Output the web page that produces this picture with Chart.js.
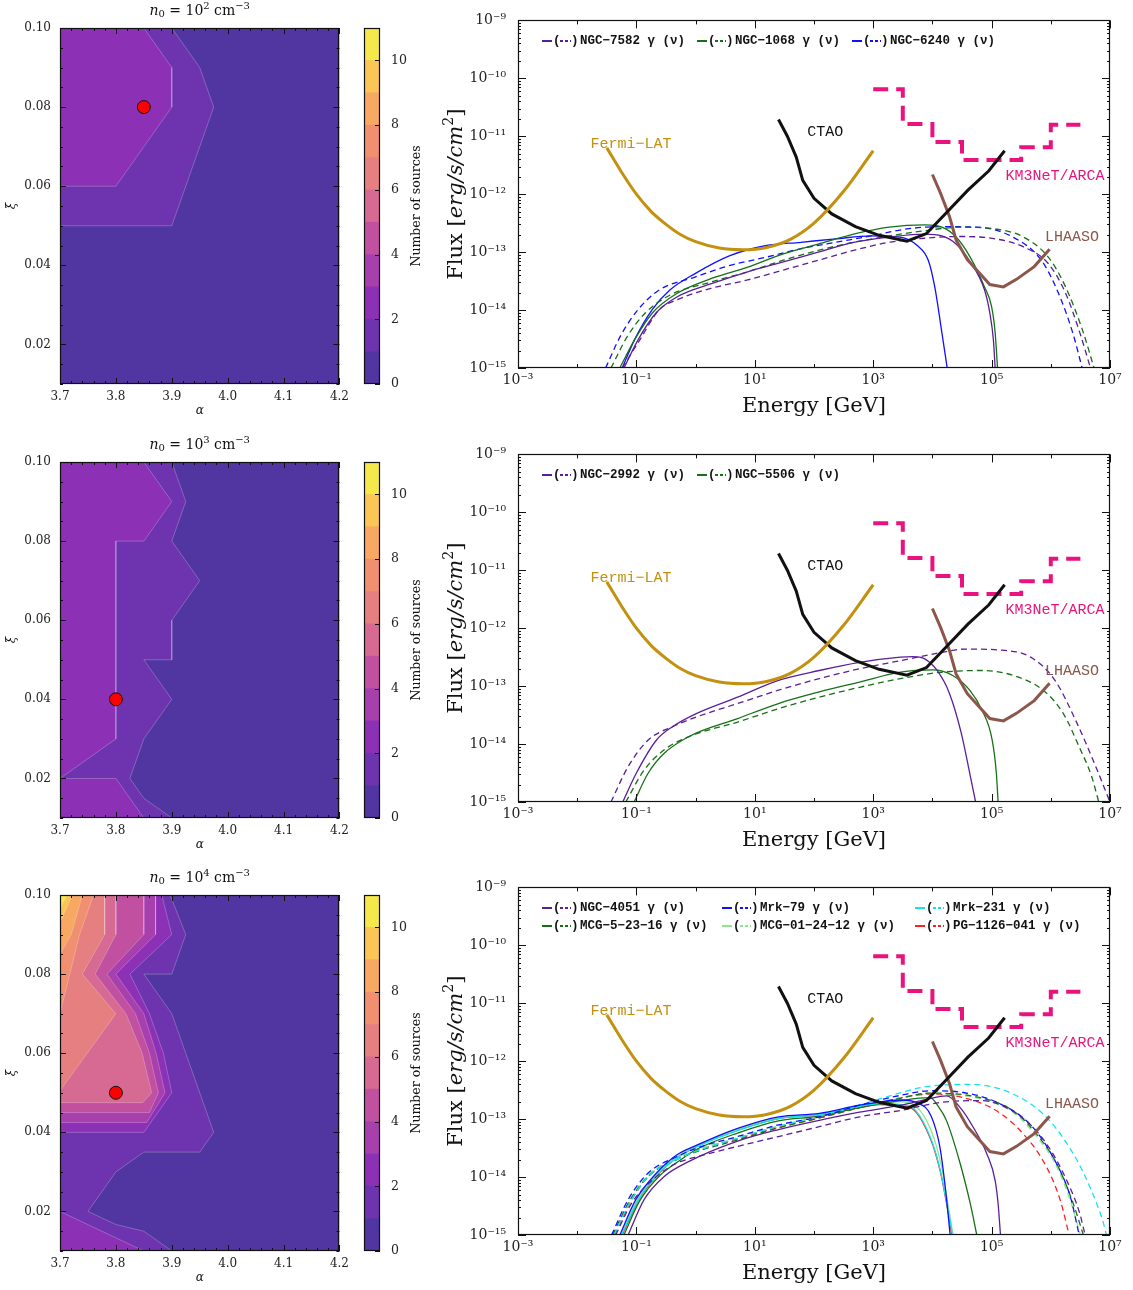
<!DOCTYPE html>
<html>
<head>
<meta charset="utf-8">
<title>Source counts and SEDs</title>
<script src="https://cdn.jsdelivr.net/npm/chart.js@4.4.1/dist/chart.umd.min.js"></script>
<style>
  body { margin: 0; background: #fff; }
  #page { position: relative; width: 1133px; height: 1290px; overflow: hidden; background: #fff; }
  canvas { position: absolute; }
</style>
</head>
<body>
<div id="page"></div>
<script>
// ---------- contour maps: number of sources over (alpha, xi) ----------
var levelColors = ['#5135a0', '#6e33af', '#8c30b5', '#a73fad', '#c150a0', '#d66a92',
                   '#e57f80', '#f09070', '#f7a862', '#fbc655', '#f5e84a'];
var colorbarLevels = [0, 1, 2, 3, 4, 5, 6, 7, 8, 9, 10];
var colorbarTicks = [0, 2, 4, 6, 8, 10];
var alphaTicks = [3.7, 3.8, 3.9, 4.0, 4.1, 4.2];
var xiTicks = [0.02, 0.04, 0.06, 0.08, 0.10];
var densityExponents = ['2', '3', '4'];

var fullBox = [[3.7, 0.10], [4.2, 0.10], [4.2, 0.01], [3.7, 0.01]];

// n0 = 1e2
var map1Level1 = [[3.7, 0.10], [3.9, 0.10], [3.95, 0.09], [3.975, 0.08], [3.9, 0.05], [3.7, 0.05]];
var map1Level2 = [[3.7, 0.10], [3.85, 0.10], [3.9, 0.09], [3.9, 0.08], [3.8, 0.06], [3.7, 0.06]];
var map1Best = [3.85, 0.08];

// n0 = 1e3
var map2Level1 = [[3.7, 0.10], [3.9, 0.10], [3.925, 0.09], [3.9, 0.08], [3.95, 0.07], [3.9, 0.06],
                  [3.9, 0.05], [3.85, 0.05], [3.9, 0.04], [3.85, 0.03], [3.825, 0.02], [3.85, 0.015],
                  [3.9, 0.01], [3.7, 0.01]];
var map2Level2 = [[3.7, 0.10], [3.85, 0.10], [3.9, 0.09], [3.85, 0.08], [3.8, 0.08], [3.8, 0.03], [3.7, 0.02]];
var map2Level2b = [[3.7, 0.02], [3.8, 0.02], [3.85, 0.01], [3.7, 0.01]];
var map2Best = [3.8, 0.04];

// n0 = 1e4
var map3Level1 = [[3.7, 0.10], [3.897, 0.10], [3.925, 0.09], [3.9, 0.08], [3.85, 0.08], [3.9, 0.07],
                  [3.975, 0.04], [3.95, 0.035], [3.85, 0.035], [3.8, 0.03], [3.75, 0.02], [3.8, 0.0167],
                  [3.85, 0.015], [3.9, 0.01], [3.7, 0.01]];
var map3Level2 = [[3.7, 0.10], [3.882, 0.10], [3.9, 0.09], [3.825, 0.08], [3.86, 0.07], [3.885, 0.06],
                  [3.9, 0.05], [3.85, 0.04], [3.7, 0.04]];
var map3Level2b = [[3.7, 0.02], [3.85, 0.01], [3.7, 0.01]];
var map3Level3 = [[3.7, 0.10], [3.871, 0.10], [3.871, 0.09], [3.80, 0.08], [3.85, 0.07], [3.872, 0.06],
                  [3.888, 0.05], [3.855, 0.0425], [3.7, 0.0425]];
var map3Level4 = [[3.7, 0.10], [3.85, 0.10], [3.85, 0.09], [3.784, 0.08], [3.835, 0.07], [3.86, 0.06],
                  [3.876, 0.05], [3.86, 0.045], [3.7, 0.045]];
var map3Level5 = [[3.7, 0.10], [3.80, 0.10], [3.80, 0.09], [3.763, 0.08], [3.818, 0.07], [3.847, 0.06],
                  [3.864, 0.05], [3.848, 0.0475], [3.7, 0.0475]];
var map3Level6 = [[3.7, 0.10], [3.78, 0.10], [3.78, 0.09], [3.74, 0.08], [3.80, 0.07], [3.7, 0.0505]];
var map3Level7 = [[3.7, 0.10], [3.76, 0.10], [3.735, 0.09], [3.7, 0.07]];
var map3Level8 = [[3.7, 0.10], [3.74, 0.10], [3.72, 0.09], [3.7, 0.085]];
var map3Level9 = [[3.7, 0.10], [3.722, 0.10], [3.7, 0.093]];
var map3Level10 = [[3.7, 0.10], [3.712, 0.10], [3.7, 0.0965]];
var map3Best = [3.8, 0.05];

var map1Regions = [[0, fullBox], [1, map1Level1], [2, map1Level2]];
var map2Regions = [[0, fullBox], [1, map2Level1], [2, map2Level2], [2, map2Level2b]];
var map3Regions = [[0, fullBox], [1, map3Level1], [2, map3Level2], [2, map3Level2b], [3, map3Level3],
                   [4, map3Level4], [5, map3Level5], [6, map3Level6], [7, map3Level7], [8, map3Level8],
                   [9, map3Level9], [10, map3Level10]];

// ---------- SEDs: [log10 E/GeV, log10 flux] ----------
var energyTicks = [-3, -1, 1, 3, 5, 7];
var fluxTicks = [-15, -14, -13, -12, -11, -10, -9];

var fermiLAT = [[-1.5, -11.2], [-1.25, -11.62], [-1.0, -12.0], [-0.75, -12.3], [-0.5, -12.52], [-0.25, -12.7],
                [0, -12.82], [0.4, -12.93], [0.8, -12.96], [1.2, -12.92], [1.6, -12.78], [2.0, -12.5],
                [2.5, -11.95], [3.0, -11.25]];
var ctao = [[1.4, -10.71], [1.55, -11.0], [1.7, -11.36], [1.81, -11.76], [2.0, -12.07], [2.3, -12.34],
            [2.7, -12.56], [3.1, -12.71], [3.57, -12.81], [3.9, -12.68], [4.2, -12.36], [4.6, -11.93],
            [4.95, -11.6], [5.22, -11.25]];
var km3netE = [3.0, 3.5, 4.0, 4.5, 5.0, 5.5, 6.0, 6.5];
var km3netF = [-10.19, -10.79, -11.10, -11.41, -11.41, -11.19, -10.80, -10.80];
var lhaaso = [[4.0, -11.66], [4.14, -11.99], [4.29, -12.39], [4.4, -12.79], [4.59, -13.13], [4.97, -13.56],
              [5.2, -13.6], [5.42, -13.47], [5.72, -13.25], [5.98, -12.95]];

// row 1
var ngc7582G = [[-1.21, -15], [-0.97, -14.51], [-0.67, -14.05], [-0.31, -13.77], [0.28, -13.54], [0.88, -13.34],
                [1.48, -13.17], [2.07, -13.0], [2.67, -12.83], [3.27, -12.74], [3.87, -12.69], [4.16, -12.72],
                [4.4, -12.86], [4.64, -13.17], [4.88, -13.65], [4.97, -14.05], [5.03, -14.51], [5.06, -15]];
var ngc7582N = [[-1.24, -15], [-0.97, -14.56], [-0.61, -13.99], [-0.31, -13.82], [0.28, -13.62], [0.88, -13.48],
                [1.48, -13.31], [2.07, -13.14], [2.67, -12.97], [3.27, -12.83], [3.87, -12.76], [4.46, -12.73],
                [5.06, -12.77], [5.54, -12.91], [5.96, -13.2], [6.25, -13.71], [6.49, -14.39], [6.67, -15]];
var ngc1068G = [[-1.28, -15], [-1.03, -14.51], [-0.73, -14.05], [-0.31, -13.71], [0.28, -13.45], [0.88, -13.26],
                [1.48, -13.03], [2.07, -12.86], [2.67, -12.69], [3.27, -12.57], [3.87, -12.53], [4.16, -12.57],
                [4.4, -12.74], [4.64, -13.09], [4.88, -13.6], [5.0, -13.94], [5.06, -14.39], [5.1, -15]];
var ngc1068N = [[-1.43, -15], [-1.15, -14.45], [-0.85, -14.05], [-0.43, -13.74], [0.28, -13.51], [0.88, -13.34],
                [1.48, -13.14], [2.07, -12.97], [2.67, -12.83], [3.27, -12.72], [3.87, -12.63], [4.46, -12.57],
                [5.06, -12.6], [5.54, -12.74], [5.96, -13.09], [6.25, -13.6], [6.55, -14.39], [6.73, -15]];
var ngc6240G = [[-1.24, -15], [-1.03, -14.51], [-0.73, -13.99], [-0.43, -13.65], [-0.01, -13.37], [0.58, -13.06],
                [1.18, -12.89], [1.78, -12.83], [2.37, -12.77], [2.97, -12.72], [3.45, -12.74], [3.75, -12.89],
                [3.93, -13.14], [4.04, -13.6], [4.16, -14.39], [4.25, -15]];
var ngc6240N = [[-1.52, -15], [-1.27, -14.45], [-0.97, -13.99], [-0.61, -13.65], [-0.01, -13.43], [0.58, -13.23],
                [1.18, -13.09], [1.78, -12.94], [2.37, -12.83], [2.97, -12.72], [3.57, -12.6], [4.16, -12.56],
                [4.76, -12.57], [5.36, -12.74], [5.84, -13.14], [6.13, -13.71], [6.37, -14.39], [6.53, -15]];

// row 2
var ngc2992G = [[-1.23, -15], [-1.0, -14.5], [-0.66, -13.93], [-0.39, -13.7], [0.02, -13.47], [0.71, -13.19],
                [1.4, -12.9], [2.09, -12.73], [2.77, -12.59], [3.46, -12.5], [3.67, -12.49], [3.87, -12.53],
                [4.08, -12.73], [4.29, -13.13], [4.49, -13.82], [4.63, -14.5], [4.73, -15]];
var ngc2992N = [[-1.43, -15], [-1.14, -14.39], [-0.8, -13.93], [-0.39, -13.7], [0.02, -13.53], [0.71, -13.3],
                [1.4, -13.07], [2.09, -12.87], [2.77, -12.7], [3.46, -12.56], [4.15, -12.42], [4.56, -12.36],
                [5.18, -12.38], [5.66, -12.5], [6.07, -12.9], [6.42, -13.59], [6.76, -14.39], [7.0, -15]];
var ngc5506G = [[-1.04, -15], [-0.8, -14.5], [-0.53, -14.16], [-0.11, -13.87], [0.71, -13.56], [1.4, -13.3],
                [2.09, -13.1], [2.77, -12.93], [3.46, -12.76], [4.01, -12.72], [4.35, -12.82], [4.63, -13.07],
                [4.84, -13.42], [5.01, -13.93], [5.08, -14.5], [5.11, -15]];
var ngc5506N = [[-1.18, -15], [-0.87, -14.45], [-0.53, -14.1], [-0.11, -13.87], [0.71, -13.62], [1.4, -13.39],
                [2.09, -13.19], [2.77, -13.02], [3.46, -12.87], [4.15, -12.76], [4.84, -12.73], [5.38, -12.82],
                [5.87, -13.07], [6.21, -13.47], [6.48, -14.05], [6.69, -14.56], [6.81, -15]];

// row 3
var ngc4051G = [[-1.14, -15], [-0.87, -14.39], [-0.53, -13.99], [-0.11, -13.73], [0.71, -13.38], [1.4, -13.18],
                [2.09, -13.02], [2.77, -12.88], [3.46, -12.76], [3.9, -12.66], [4.24, -12.6], [4.47, -12.8],
                [4.69, -13.14], [4.92, -13.6], [5.06, -14.06], [5.11, -14.46], [5.15, -15]];
var ngc4051N = [[-1.35, -15], [-1.08, -14.45], [-0.66, -13.99], [-0.32, -13.76], [0.02, -13.65], [0.71, -13.47],
                [1.4, -13.3], [2.09, -13.13], [2.77, -12.96], [3.46, -12.85], [4.15, -12.71], [4.81, -12.68],
                [5.51, -12.97], [5.93, -13.43], [6.27, -14.06], [6.49, -14.63], [6.58, -15]];
var mrk79G = [[-1.28, -15], [-1.01, -14.39], [-0.66, -13.93], [-0.32, -13.62], [0.02, -13.45], [0.71, -13.16],
              [1.4, -12.96], [2.09, -12.9], [2.77, -12.76], [3.46, -12.67], [3.75, -12.72], [3.98, -12.95],
              [4.13, -13.5], [4.22, -14.2], [4.3, -15]];
var mrk79N = [[-1.42, -15], [-1.14, -14.39], [-0.8, -13.93], [-0.32, -13.65], [0.02, -13.5], [0.71, -13.3],
              [1.4, -13.1], [2.09, -12.96], [2.77, -12.76], [3.46, -12.59], [3.96, -12.51], [4.52, -12.54],
              [5.09, -12.71], [5.65, -13.09], [6.04, -13.66], [6.33, -14.34], [6.48, -15]];
var mrk231G = [[-1.25, -15], [-0.98, -14.42], [-0.64, -13.95], [-0.3, -13.66], [0.02, -13.48], [0.71, -13.2],
               [1.4, -12.99], [2.09, -12.92], [2.77, -12.78], [3.11, -12.73], [3.62, -12.78], [3.96, -13.3],
               [4.13, -13.87], [4.24, -14.44], [4.34, -15]];
var mrk231N = [[-1.38, -15], [-1.1, -14.42], [-0.78, -13.97], [-0.32, -13.7], [0.02, -13.55], [0.71, -13.33],
               [1.4, -13.12], [2.09, -12.95], [2.77, -12.76], [3.11, -12.65], [3.96, -12.43], [4.64, -12.4],
               [5.37, -12.57], [5.93, -12.97], [6.38, -13.6], [6.66, -14.17], [6.89, -14.8], [6.94, -15]];
var mcg52316G = [[-1.21, -15], [-0.95, -14.42], [-0.6, -13.97], [-0.25, -13.7], [0.02, -13.52], [0.71, -13.24],
                 [1.4, -13.03], [2.09, -12.95], [2.77, -12.8], [3.46, -12.68], [3.96, -12.63], [4.1, -12.78],
                 [4.24, -13.03], [4.47, -13.77], [4.64, -14.46], [4.75, -15]];
var mcg52316N = [[-1.4, -15], [-1.12, -14.42], [-0.78, -13.97], [-0.32, -13.7], [0.02, -13.56], [0.71, -13.36],
                 [1.4, -13.15], [2.09, -12.98], [2.77, -12.8], [3.46, -12.64], [3.96, -12.55], [4.81, -12.63],
                 [5.37, -12.86], [5.76, -13.26], [6.1, -13.77], [6.38, -14.46], [6.55, -15]];
var mcg012412G = [[-1.26, -15], [-0.99, -14.4], [-0.65, -13.94], [-0.31, -13.64], [0.02, -13.47], [0.71, -13.18],
                  [1.4, -12.98], [2.09, -12.92], [2.77, -12.78], [3.46, -12.7], [3.7, -12.76], [3.98, -13.2],
                  [4.15, -13.8], [4.26, -14.45], [4.35, -15]];
var mcg012412N = [[-1.39, -15], [-1.11, -14.4], [-0.79, -13.95], [-0.32, -13.68], [0.02, -13.53], [0.71, -13.32],
                  [1.4, -13.12], [2.09, -12.97], [2.77, -12.79], [3.46, -12.63], [3.96, -12.56], [4.81, -12.65],
                  [5.37, -12.89], [5.76, -13.3], [6.1, -13.82], [6.36, -14.5], [6.5, -15]];
var pg1126G = [[-1.24, -15], [-0.97, -14.41], [-0.63, -13.95], [-0.3, -13.65], [0.02, -13.47], [0.71, -13.19],
               [1.4, -12.99], [2.09, -12.93], [2.77, -12.8], [3.11, -12.75], [3.62, -12.8], [3.96, -13.32],
               [4.13, -13.89], [4.24, -14.46], [4.33, -15]];
var pg1126N = [[-1.37, -15], [-1.09, -14.41], [-0.77, -13.96], [-0.32, -13.69], [0.02, -13.54], [0.71, -13.34],
               [1.4, -13.14], [2.09, -12.98], [2.77, -12.8], [3.11, -12.71], [3.96, -12.57], [4.52, -12.63],
               [5.09, -12.86], [5.54, -13.26], [5.93, -13.83], [6.16, -14.4], [6.31, -15]];

var purple = '#5b1e9a', green = '#167016', blue = '#1010ff', cyan = '#12e4ee',
    lightGreen = '#8fe68f', red = '#ff2020';
var fermiColor = '#c3900f', ctaoColor = '#111111', km3Color = '#e8137f', lhaasoColor = '#8c574a';

var row1Sources = [
  {name: 'NGC-7582', color: purple, gamma: ngc7582G, nu: ngc7582N, lx: 107, ly: 41},
  {name: 'NGC-1068', color: green, gamma: ngc1068G, nu: ngc1068N, lx: 262, ly: 41},
  {name: 'NGC-6240', color: blue, gamma: ngc6240G, nu: ngc6240N, lx: 417, ly: 41}
];
var row2Sources = [
  {name: 'NGC-2992', color: purple, gamma: ngc2992G, nu: ngc2992N, lx: 107, ly: 41},
  {name: 'NGC-5506', color: green, gamma: ngc5506G, nu: ngc5506N, lx: 262, ly: 41}
];
var row3Sources = [
  {name: 'NGC-4051', color: purple, gamma: ngc4051G, nu: ngc4051N, lx: 107, ly: 41},
  {name: 'Mrk-79', color: blue, gamma: mrk79G, nu: mrk79N, lx: 287, ly: 41},
  {name: 'Mrk-231', color: cyan, gamma: mrk231G, nu: mrk231N, lx: 480, ly: 41},
  {name: 'MCG-5-23-16', color: green, gamma: mcg52316G, nu: mcg52316N, lx: 107, ly: 59},
  {name: 'MCG-01-24-12', color: lightGreen, gamma: mcg012412G, nu: mcg012412N, lx: 287, ly: 59},
  {name: 'PG-1126-041', color: red, gamma: pg1126G, nu: pg1126N, lx: 480, ly: 59}
];

// ---------- helpers ----------
Chart.defaults.font.family = "'DejaVu Serif', serif";
Chart.defaults.color = '#222';
Chart.defaults.animation = false;
Chart.defaults.plugins.legend.display = false;
Chart.defaults.plugins.tooltip.enabled = false;

var SERIF = "'DejaVu Serif', serif";
var MONO = "'Liberation Mono', monospace";
var SUP = {'-': '\u207B', '0': '\u2070', '1': '\u00B9', '2': '\u00B2', '3': '\u00B3', '4': '\u2074',
           '5': '\u2075', '6': '\u2076', '7': '\u2077', '8': '\u2078', '9': '\u2079'};
function pow10Label(n) {
  return '10' + String(n).split('').map(function (c) { return SUP[c]; }).join('');
}

function addCanvas(left, top, w, h) {
  var c = document.createElement('canvas');
  c.width = w; c.height = h;
  c.style.left = left + 'px'; c.style.top = top + 'px';
  c.style.width = w + 'px'; c.style.height = h + 'px';
  document.getElementById('page').appendChild(c);
  return c;
}

function drawRich(ctx, parts, x, y, rot) {
  ctx.save();
  ctx.translate(x, y);
  if (rot) ctx.rotate(rot);
  var w = 0;
  parts.forEach(function (p) { ctx.font = p.f; p.w = ctx.measureText(p.t).width; w += p.w; });
  var cx = -w / 2;
  ctx.textBaseline = 'middle';
  ctx.textAlign = 'left';
  parts.forEach(function (p) {
    ctx.font = p.f; ctx.fillStyle = p.c || '#111';
    ctx.fillText(p.t, cx, p.dy || 0);
    cx += p.w;
  });
  ctx.restore();
}

// inward tick marks and box around the plot area
function framePlugin(cfg) {
  return {
    id: 'frame',
    afterDatasetsDraw: function (chart) {
      var a = chart.chartArea, ctx = chart.ctx, xs = chart.scales.x, ys = chart.scales.y;
      ctx.save();
      ctx.strokeStyle = '#111';
      ctx.lineWidth = 1;
      ctx.beginPath();
      (cfg.x || []).forEach(function (t) {
        var px = Math.round(xs.getPixelForValue(t[0])) + 0.5;
        ctx.moveTo(px, a.bottom); ctx.lineTo(px, a.bottom - t[1]);
        ctx.moveTo(px, a.top); ctx.lineTo(px, a.top + t[1]);
      });
      (cfg.y || []).forEach(function (t) {
        var py = Math.round(ys.getPixelForValue(t[0])) + 0.5;
        if (!cfg.rightOnly) { ctx.moveTo(a.left, py); ctx.lineTo(a.left + t[1], py); }
        ctx.moveTo(a.right, py); ctx.lineTo(a.right - t[1], py);
      });
      ctx.stroke();
      ctx.lineWidth = 1.2;
      ctx.strokeRect(Math.round(a.left) + 0.5, Math.round(a.top) + 0.5,
                     Math.round(a.width) - 1, Math.round(a.height) - 1);
      ctx.restore();
    }
  };
}

function decoPlugin(fn) {
  return { id: 'deco', afterDraw: function (chart) { fn(chart, chart.ctx); } };
}

function fixedTicks(values) {
  return function (scale) { scale.ticks = values.map(function (v) { return {value: v}; }); };
}

// ---------- contour panel ----------
function makeContour(top, regions, best, exponent) {
  var canvas = addCanvas(0, top, 355, 420);
  var datasets = regions.map(function (r) {
    var pts = r[1].concat([r[1][0]]).map(function (p) { return {x: p[0], y: p[1]}; });
    return {
      data: pts, backgroundColor: levelColors[r[0]],
      borderColor: 'rgba(255,255,255,0.3)', borderWidth: r[0] ? 0.8 : 0,
      fill: 'shape', pointRadius: 0, tension: 0, order: 20 - r[0]
    };
  });
  datasets.push({
    data: [{x: best[0], y: best[1]}], showLine: false, pointRadius: 6.5,
    pointBackgroundColor: '#ff0000', pointBorderColor: '#111', pointBorderWidth: 1, order: 0
  });
  var xMarks = [], yMarks = [];
  for (var i = 0; i <= 25; i++) xMarks.push([3.7 + i * 0.02, i % 5 === 0 ? 6 : 3]);
  for (var j = 2; j <= 20; j++) yMarks.push([j * 0.005, j % 4 === 0 ? 6 : 3]);

  new Chart(canvas, {
    type: 'line',
    data: {datasets: datasets},
    options: {
      responsive: false, events: [],
      layout: {padding: {top: 28, right: 8, left: 0, bottom: 0}},
      scales: {
        x: {
          type: 'linear', min: 3.7, max: 4.2,
          afterBuildTicks: fixedTicks(alphaTicks),
          afterFit: function (s) { s.height = 36; },
          grid: {display: false, drawTicks: false}, border: {display: false},
          ticks: {autoSkip: false, maxRotation: 0, padding: 6, font: {size: 12},
                  callback: function (v) { return v.toFixed(1); }}
        },
        y: {
          type: 'linear', min: 0.01, max: 0.10,
          afterBuildTicks: fixedTicks(xiTicks),
          afterFit: function (s) { s.width = 60; },
          grid: {display: false, drawTicks: false}, border: {display: false},
          ticks: {autoSkip: false, padding: 9, font: {size: 12},
                  callback: function (v) { return v.toFixed(2); }}
        }
      }
    },
    plugins: [framePlugin({x: xMarks, y: yMarks}), decoPlugin(function (chart, ctx) {
      var a = chart.chartArea, cx = (a.left + a.right) / 2;
      drawRich(ctx, [
        {t: 'n', f: 'italic 14px ' + SERIF},
        {t: '0', f: '10px ' + SERIF, dy: 3},
        {t: ' = 10', f: '14px ' + SERIF},
        {t: exponent, f: '10px ' + SERIF, dy: -5},
        {t: ' cm', f: '14px ' + SERIF},
        {t: '\u22123', f: '10px ' + SERIF, dy: -5}
      ], cx, 11);
      drawRich(ctx, [{t: '\u03B1', f: 'italic 12px ' + SERIF}], cx, a.bottom + 27);
      drawRich(ctx, [{t: '\u03BE', f: 'italic 12px ' + SERIF}], 12, (a.top + a.bottom) / 2, -Math.PI / 2);
    })]
  });
}

// ---------- colour bar ----------
function makeColorbar(top) {
  var canvas = addCanvas(355, top, 80, 420);
  new Chart(canvas, {
    type: 'bar',
    data: {
      labels: ['n'],
      datasets: colorbarLevels.map(function (l) {
        return {data: [[l, l + 1]], backgroundColor: levelColors[l], grouped: false,
                barPercentage: 1, categoryPercentage: 1, borderWidth: 0};
      })
    },
    options: {
      responsive: false, events: [],
      layout: {padding: {left: 9, top: 28, bottom: 36, right: 0}},
      scales: {
        x: {display: false},
        y: {
          position: 'right', min: 0, max: 11,
          afterBuildTicks: fixedTicks(colorbarTicks),
          afterFit: function (s) { s.width = 55; },
          grid: {display: false, drawTicks: false}, border: {display: false},
          ticks: {padding: 11, font: {size: 12.5}}
        }
      }
    },
    plugins: [framePlugin({y: colorbarTicks.map(function (v) { return [v, 5]; }), rightOnly: true}),
      decoPlugin(function (chart, ctx) {
        var a = chart.chartArea;
        drawRich(ctx, [{t: 'Number of sources', f: '12.5px ' + SERIF}], 62, (a.top + a.bottom) / 2, -Math.PI / 2);
      })]
  });
}

// ---------- SED panel ----------
function curve(arr, color, width, dash, smooth) {
  return {
    data: arr.map(function (p) { return {x: Math.pow(10, p[0]), y: Math.pow(10, p[1])}; }),
    borderColor: color, borderWidth: width, borderDash: dash, pointRadius: 0, fill: false,
    cubicInterpolationMode: smooth ? 'monotone' : 'default', tension: 0
  };
}

function makeSed(top, sources) {
  var canvas = addCanvas(435, top, 698, 425);
  var datasets = [];
  sources.forEach(function (s) {
    datasets.push(curve(s.nu, s.color, 1.3, [6, 4], true));
    datasets.push(curve(s.gamma, s.color, 1.3, [], true));
  });
  var fermi = curve(fermiLAT, fermiColor, 3, [], true); fermi.order = -1;
  var cta = curve(ctao, ctaoColor, 3, [], false); cta.order = -1;
  var lha = curve(lhaaso, lhaasoColor, 3, [], false); lha.order = -1;
  // horizontal run first, then the vertical step to the next bin
  var km3 = {
    data: km3netE.map(function (e, i) { return {x: Math.pow(10, e), y: Math.pow(10, km3netF[i])}; }),
    borderColor: km3Color, borderWidth: 4, borderDash: [15, 8], stepped: 'before',
    pointRadius: 0, fill: false, order: -1
  };
  datasets.push(fermi, cta, km3, lha);

  var xMarks = [], yMarks = [];
  for (var n = -3; n <= 7; n++) xMarks.push([Math.pow(10, n), Math.abs(n) % 2 === 1 ? 8 : 4]);
  for (var k = -15; k <= -9; k++) {
    yMarks.push([Math.pow(10, k), 8]);
    if (k < -9) for (var m = 2; m <= 9; m++) yMarks.push([m * Math.pow(10, k), 3]);
  }

  new Chart(canvas, {
    type: 'line',
    data: {datasets: datasets},
    options: {
      responsive: false, events: [],
      layout: {padding: {top: 18, right: 23, left: 0, bottom: 0}},
      scales: {
        x: {
          type: 'logarithmic', min: 1e-3, max: 1e7,
          afterBuildTicks: fixedTicks(energyTicks.map(function (n) { return Math.pow(10, n); })),
          afterFit: function (s) { s.height = 57; },
          grid: {display: false, drawTicks: false}, border: {display: false},
          ticks: {autoSkip: false, maxRotation: 0, padding: 4, font: {size: 14},
                  callback: function (v) { return pow10Label(Math.round(Math.log10(v))); }}
        },
        y: {
          type: 'logarithmic', min: 1e-15, max: 1e-9,
          afterBuildTicks: fixedTicks(fluxTicks.map(function (n) { return Math.pow(10, n); })),
          afterFit: function (s) { s.width = 83; },
          grid: {display: false, drawTicks: false}, border: {display: false},
          ticks: {autoSkip: false, padding: 12, font: {size: 14},
                  callback: function (v) { return pow10Label(Math.round(Math.log10(v))); }}
        }
      }
    },
    plugins: [framePlugin({x: xMarks, y: yMarks}), decoPlugin(function (chart, ctx) {
      var a = chart.chartArea, xs = chart.scales.x, ys = chart.scales.y;
      function at(e, f) { return [xs.getPixelForValue(Math.pow(10, e)), ys.getPixelForValue(Math.pow(10, f))]; }
      drawRich(ctx, [{t: 'Energy [GeV]', f: '21px ' + SERIF}], (a.left + a.right) / 2, a.bottom + 39);
      drawRich(ctx, [
        {t: 'Flux [', f: '21px ' + SERIF},
        {t: 'erg/s/cm', f: 'italic 21px ' + SERIF},
        {t: '2', f: '14px ' + SERIF, dy: -8},
        {t: ']', f: '21px ' + SERIF}
      ], 22, (a.top + a.bottom) / 2, -Math.PI / 2);
      var labels = [
        ['Fermi\u2212LAT', fermiColor, -1.09, -11.13],
        ['CTAO', ctaoColor, 2.19, -10.92],
        ['KM3NeT/ARCA', km3Color, 6.07, -11.69],
        ['LHAASO', lhaasoColor, 6.36, -12.74]
      ];
      labels.forEach(function (l) {
        var p = at(l[2], l[3]);
        drawRich(ctx, [{t: l[0], f: '15px ' + MONO, c: l[1]}], p[0], p[1]);
      });
      // legend: solid gamma line, dashed neutrino line in brackets
      sources.forEach(function (s) {
        var x = s.lx, y = s.ly;
        ctx.save();
        ctx.strokeStyle = s.color; ctx.lineWidth = 2;
        ctx.beginPath(); ctx.moveTo(x, y); ctx.lineTo(x + 10, y); ctx.stroke();
        ctx.setLineDash([3, 2]);
        ctx.beginPath(); ctx.moveTo(x + 18, y); ctx.lineTo(x + 29, y); ctx.stroke();
        ctx.restore();
        ctx.save();
        ctx.font = 'bold 12.5px ' + MONO; ctx.fillStyle = '#111';
        ctx.textBaseline = 'middle'; ctx.textAlign = 'left';
        ctx.fillText('(', x + 11, y);
        ctx.fillText(')', x + 29, y);
        ctx.fillText(s.name.replace(/-/g, '\u2212') + ' \u03B3 (\u03BD)', x + 38, y);
        ctx.restore();
      });
    })]
  });
}

var rowTops = [0, 434, 867];
makeContour(rowTops[0], map1Regions, map1Best, densityExponents[0]);
makeContour(rowTops[1], map2Regions, map2Best, densityExponents[1]);
makeContour(rowTops[2], map3Regions, map3Best, densityExponents[2]);
rowTops.forEach(function (t) { makeColorbar(t); });
makeSed(rowTops[0], row1Sources);
makeSed(rowTops[1], row2Sources);
makeSed(rowTops[2], row3Sources);
</script>
</body>
</html>
